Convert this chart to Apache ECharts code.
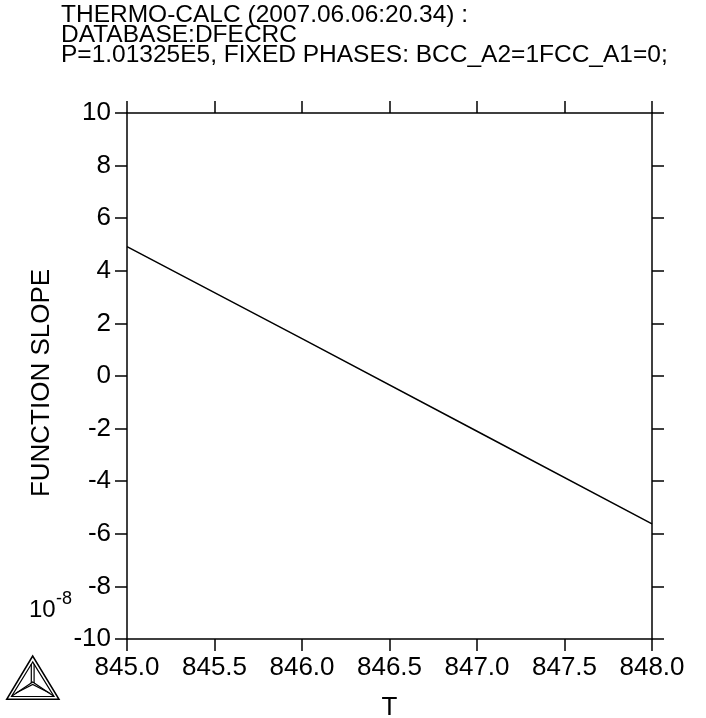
<!DOCTYPE html>
<html>
<head>
<meta charset="utf-8">
<script src="https://cdn.jsdelivr.net/npm/echarts@6/dist/echarts.min.js"></script>
<style>
html,body{margin:0;padding:0;background:#fff;}
#chart{width:706px;height:718px;}
</style>
</head>
<body>
<div id="chart"></div>
<script>
// ---- data ----
var titleLines = ['THERMO-CALC (2007.06.06:20.34) :', 'DATABASE:DFECRC', 'P=1.01325E5, FIXED PHASES: BCC_A2=1FCC_A1=0;'];
var temperature = [845.0, 846.0, 847.0, 848.0];
var functionSlope = [4.92, 1.42, -2.10, -5.62];
var xTicks = [845.0, 845.5, 846.0, 846.5, 847.0, 847.5, 848.0];
var yTicks = [-10, -8, -6, -4, -2, 0, 2, 4, 6, 8, 10];
var xName = 'T';
var yName = 'FUNCTION SLOPE';
var yScaleText = ['10', '-8'];

var FONT = 'Liberation Sans';
var chart = echarts.init(document.getElementById('chart'), null, {renderer: 'canvas'});

var lineData = temperature.map(function (t, i) { return [t, functionSlope[i]]; });

var axisLineStyle = {color: '#000', width: 1.5};
var tickStyle = {show: true, inside: false, length: 12, lineStyle: {color: '#000', width: 1.5}};

function xAxisBase(pos, showLabel) {
  return {
    type: 'value', position: pos,
    min: xTicks[0], max: xTicks[xTicks.length - 1], interval: 0.5,
    axisLine: {show: true, lineStyle: axisLineStyle, onZero: false},
    axisTick: tickStyle,
    splitLine: {show: false},
    axisLabel: {show: showLabel, fontFamily: FONT, fontSize: 26, color: '#000', margin: 16,
      formatter: function (v) { return v.toFixed(1); }}
  };
}
function yAxisBase(pos, showLabel) {
  return {
    type: 'value', position: pos,
    min: yTicks[0], max: yTicks[yTicks.length - 1], interval: 2,
    axisLine: {show: true, lineStyle: axisLineStyle, onZero: false},
    axisTick: tickStyle,
    splitLine: {show: false},
    axisLabel: {show: showLabel, fontFamily: FONT, fontSize: 26, color: '#000', margin: 16}
  };
}

var xb = xAxisBase('bottom', true);
xb.name = xName; xb.nameLocation = 'middle'; xb.nameGap = 56;
xb.nameTextStyle = {fontFamily: FONT, fontSize: 26, color: '#000'};
var xt = xAxisBase('top', false);
var yl = yAxisBase('left', true);
yl.name = yName; yl.nameLocation = 'middle'; yl.nameGap = 72; yl.nameRotate = 90;
yl.nameTextStyle = {fontFamily: FONT, fontSize: 26, color: '#000', padding: [0, 14, 0, 0]};
var yr = yAxisBase('right', false);

var option = {
  backgroundColor: '#fff',
  animation: false,
  grid: {left: 127, right: 54, top: 113, bottom: 79, containLabel: false, outerBoundsMode: 'none'},
  xAxis: [xb, xt],
  yAxis: [yl, yr],
  series: [{
    type: 'line', xAxisIndex: 0, yAxisIndex: 0,
    data: lineData, symbol: 'none', silent: true,
    lineStyle: {color: '#000', width: 1.5}
  }],
  graphic: [
    {type: 'text', left: 61, top: 3, silent: true,
      style: {text: titleLines.join('\n'), font: '24.5px "' + FONT + '"', lineHeight: 20, fill: '#000'}},
    {type: 'text', x: 29, y: 610, silent: true,
      style: {text: yScaleText[0], font: '24px "' + FONT + '"', fill: '#000', verticalAlign: 'middle', align: 'left'}},
    {type: 'text', x: 56, y: 599, silent: true,
      style: {text: yScaleText[1], font: '18px "' + FONT + '"', fill: '#000', verticalAlign: 'middle', align: 'left'}},
    // logo
    {type: 'polygon', silent: true, shape: {points: [[32.7, 656], [6.7, 699.3], [59, 699.3]]},
      style: {fill: 'none', stroke: '#000', lineWidth: 1.5}},
    {type: 'polygon', silent: true, shape: {points: [[32.7, 662], [11.5, 696.5], [54, 696.5]]},
      style: {fill: 'none', stroke: '#000', lineWidth: 1.2}},
    {type: 'polyline', silent: true, shape: {points: [[31.3, 664], [31.3, 683]]}, style: {stroke: '#000', lineWidth: 1.2}},
    {type: 'polyline', silent: true, shape: {points: [[34.1, 664], [34.1, 683]]}, style: {stroke: '#000', lineWidth: 1.2}},
    {type: 'polyline', silent: true, shape: {points: [[12, 696], [32.7, 682], [53.5, 696]]}, style: {fill: 'none', stroke: '#000', lineWidth: 1.2}},
    {type: 'polyline', silent: true, shape: {points: [[16, 693], [32.7, 684.5], [49.5, 693]]}, style: {fill: 'none', stroke: '#000', lineWidth: 1.2}}
  ]
};
chart.setOption(option);
</script>
</body>
</html>
